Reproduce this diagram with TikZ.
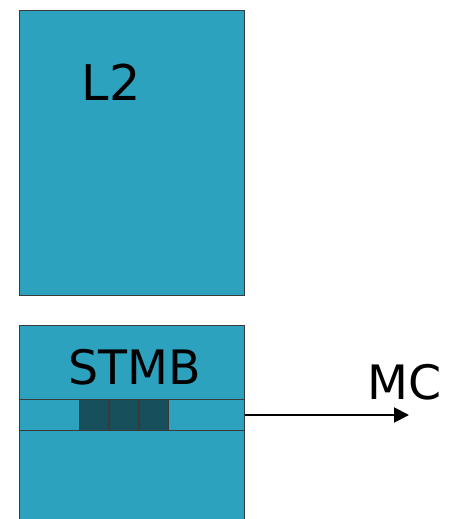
\documentclass[tikz,border=0pt]{standalone}
\usepackage{fontspec}
\setmainfont{DejaVu Sans}
\usetikzlibrary{arrows.meta, positioning}

\definecolor{cachefill}{HTML}{2CA2BF}
\definecolor{entryfill}{HTML}{17505C}
\definecolor{edgegray}{HTML}{3A3A3A}

\begin{document}
\begin{tikzpicture}[
		x=0.02cm, y=-0.02cm,
		block/.style={rectangle, draw=edgegray, line width=0.5pt, fill=cachefill, anchor=north west, inner sep=0pt},
		entry/.style={rectangle, draw=edgegray, line width=0.5pt, fill=entryfill, anchor=north west, inner sep=0pt, minimum width=0.585cm, minimum height=0.62cm},
		lbl/.style={font=\fontsize{27}{30}\selectfont, inner sep=0pt},
		arrow/.style={-{Triangle[length=0.3cm, width=0.3cm]}, line width=1.1pt}
		]
		\useasboundingbox (0,0) rectangle (452,519);
		\node[block, minimum width=4.5cm, minimum height=5.7cm] (l2) at (19,10) {};
		\node[lbl, font=\fontsize{28}{31}\selectfont] (l2name) at (111,82) {L2};

		\node[block, minimum width=4.5cm, minimum height=4.1cm] (stmb) at (19,325) {};
		\node[lbl] (stmbname) at (135,367) {STMB};
		\node[block, minimum width=4.5cm, minimum height=0.62cm] (strip) at (19,399) {};
		\node[entry] (e1) at (79,399) {};
		\node[entry, right=0pt of e1] (e2) {};
		\node[entry, right=0pt of e2] (e3) {};

		\coordinate (mcend) at (409,415);
		\node[lbl] (mc) at (405,382) {MC};
		\draw[arrow] (strip.east |- mcend) -- (mcend);
	\end{tikzpicture}
\end{document}
